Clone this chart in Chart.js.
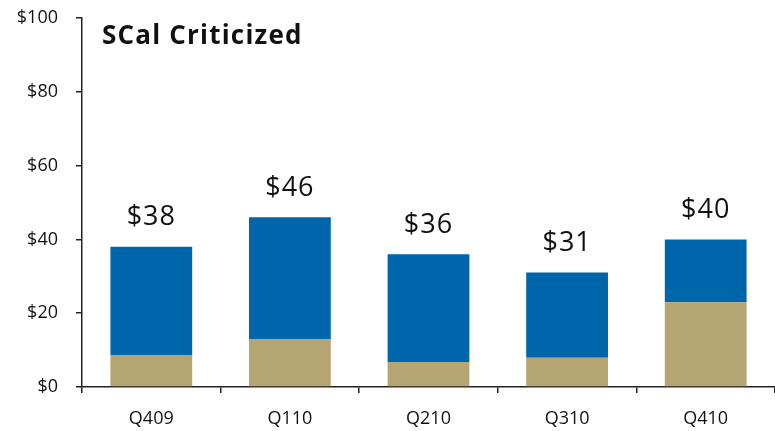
<!DOCTYPE html>
<html>
<head>
<meta charset="utf-8">
<script src="https://cdn.jsdelivr.net/npm/chart.js@4"></script>
<style>
  html, body { margin: 0; padding: 0; background: #fff; }
  #wrap { width: 775px; height: 431px; }
</style>
</head>
<body>
<div id="wrap"><canvas id="chart"></canvas></div>
<script>
// data
const quarters = ['Q409', 'Q110', 'Q210', 'Q310', 'Q410'];
const lowerPart = [8.7, 13.0, 6.8, 7.9, 23.0];   // tan segment
const upperPart = [29.3, 33.0, 29.2, 23.1, 17.0]; // blue segment
const totals = [38, 46, 36, 31, 40];
const yTicks = [0, 20, 40, 60, 80, 100];

const fontFamily = '"Open Sans", "Noto Sans", sans-serif';

// draws the $ totals above each bar and the title in the plot
const labelsPlugin = {
    id: 'labels',
    afterDatasetsDraw(chart) {
        const ctx = chart.ctx;
        const x = chart.scales.x;
        const y = chart.scales.y;
        ctx.save();
        ctx.fillStyle = '#111';
        ctx.font = '27px ' + fontFamily;
        ctx.letterSpacing = '1px';
        ctx.textAlign = 'center';
        ctx.textBaseline = 'middle';
        totals.forEach((t, i) => {
            ctx.fillText('$' + t, x.getPixelForValue(i), y.getPixelForValue(t) - 29);
        });
        ctx.font = 'bold 26px ' + fontFamily;
        ctx.letterSpacing = '1.2px';
        ctx.textAlign = 'left';
        ctx.fillText('SCal Criticized', chart.chartArea.left + 20, 37);
        ctx.restore();
    }
};

new Chart(document.getElementById('chart'), {
    type: 'bar',
    data: {
        labels: quarters,
        datasets: [
            { label: 'lower', data: lowerPart, backgroundColor: '#b4a572' },
            { label: 'upper', data: upperPart, backgroundColor: '#0066ab' }
        ]
    },
    options: {
        responsive: true,
        maintainAspectRatio: false,
        animation: false,
        layout: { padding: { top: 18, right: 0, left: 0, bottom: 0 } },
        datasets: { bar: { barPercentage: 0.59, categoryPercentage: 1.0 } },
        plugins: {
            legend: { display: false },
            tooltip: { enabled: false }
        },
        scales: {
            x: {
                stacked: true,
                afterFit(scale) { scale.height = 44; },
                border: { color: '#222', width: 1.5 },
                grid: { offset: true, drawOnChartArea: false, tickLength: 6, color: '#222', lineWidth: 1.5 },
                ticks: { padding: 15, color: '#111', font: { family: fontFamily, size: 18 } }
            },
            y: {
                stacked: true,
                min: 0,
                max: 100,
                afterFit(scale) {
                    scale.width = 82;
                    scale.paddingTop = 0;
                    scale.paddingBottom = 0;
                },
                afterBuildTicks(scale) { scale.ticks = yTicks.map(v => ({ value: v })); },
                border: { color: '#222', width: 1.5 },
                grid: { drawOnChartArea: false, tickLength: 6, color: '#222', lineWidth: 1.5 },
                ticks: {
                    padding: 18,
                    color: '#111',
                    font: { family: fontFamily, size: 18 },
                    callback: v => '$' + v
                }
            }
        }
    },
    plugins: [labelsPlugin]
});
</script>
</body>
</html>
